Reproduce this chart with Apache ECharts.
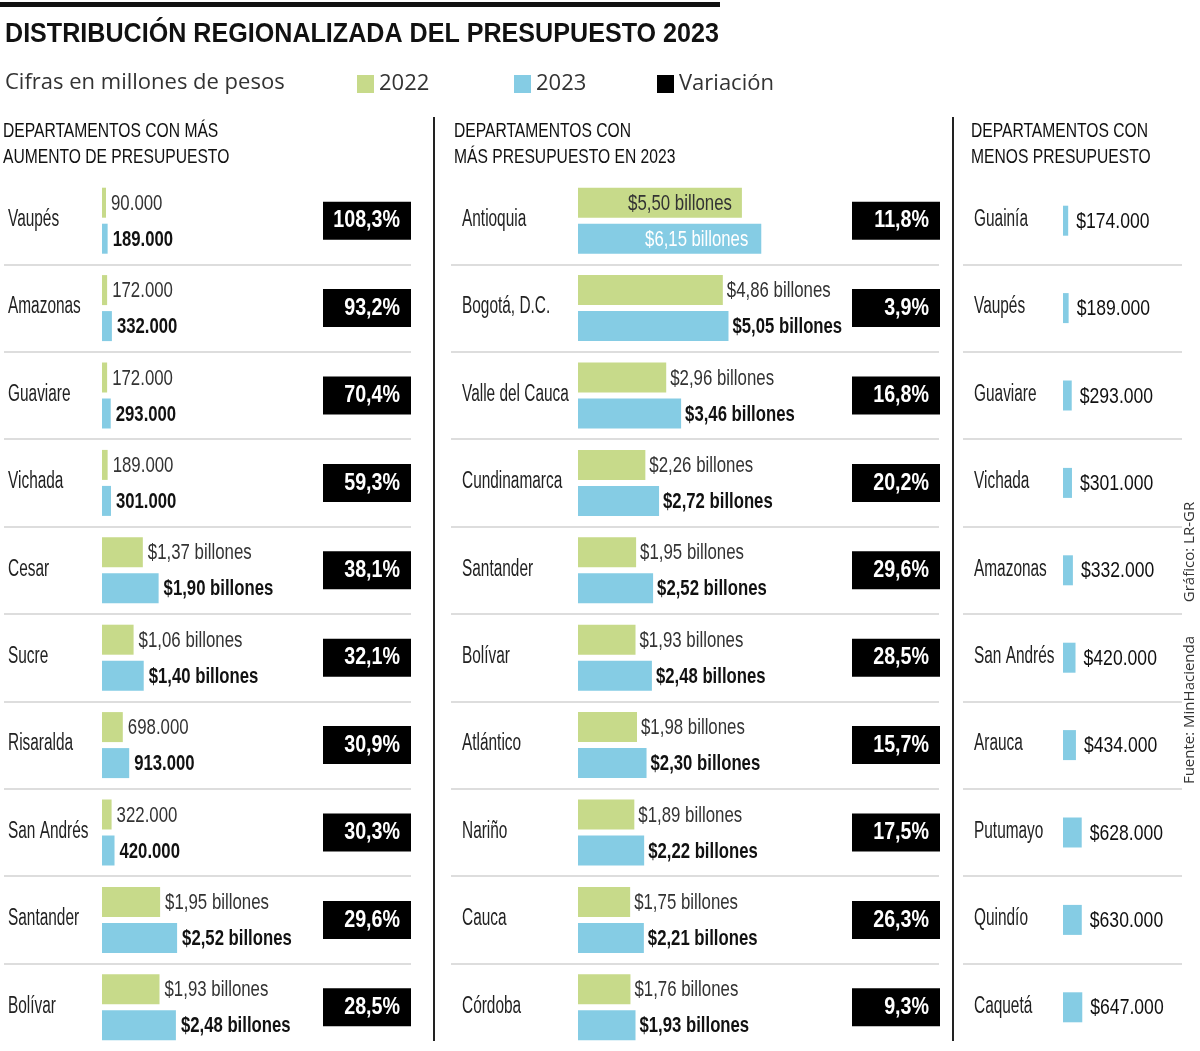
<!DOCTYPE html>
<html>
<head>
<meta charset="utf-8">
<script src="https://cdn.jsdelivr.net/npm/echarts@6/dist/echarts.min.js"></script>
<style>
  html, body { margin: 0; padding: 0; background: #fff; }
  #chart { width: 1200px; height: 1051px; }
</style>
</head>
<body>
<div id="chart"></div>
<script>
// ---------------- DATA ----------------
const TITLE = 'DISTRIBUCIÓN REGIONALIZADA DEL PRESUPUESTO 2023';
const SUBTITLE = 'Cifras en millones de pesos';
const HEADER_AUMENTO = 'DEPARTAMENTOS CON MÁS\nAUMENTO DE PRESUPUESTO';
const HEADER_MAS = 'DEPARTAMENTOS CON\nMÁS PRESUPUESTO EN 2023';
const HEADER_MENOS = 'DEPARTAMENTOS CON\nMENOS PRESUPUESTO';
const SOURCE_GRAFICO = 'Gráfico: LR-GR';
const SOURCE_FUENTE = 'Fuente: MinHacienda';

// Panel 1: departamentos con más aumento (millones de pesos)
const deptsAumento = ['Vaupés', 'Amazonas', 'Guaviare', 'Vichada', 'Cesar', 'Sucre', 'Risaralda', 'San Andrés', 'Santander', 'Bolívar'];
const aumento2022 = [90000, 172000, 172000, 189000, 1370000, 1060000, 698000, 322000, 1950000, 1930000];
const aumento2023 = [189000, 332000, 293000, 301000, 1900000, 1400000, 913000, 420000, 2520000, 2480000];
const aumentoVar = [108.3, 93.2, 70.4, 59.3, 38.1, 32.1, 30.9, 30.3, 29.6, 28.5];

// Panel 2: departamentos con más presupuesto en 2023
const deptsMas = ['Antioquia', 'Bogotá, D.C.', 'Valle del Cauca', 'Cundinamarca', 'Santander', 'Bolívar', 'Atlántico', 'Nariño', 'Cauca', 'Córdoba'];
const mas2022 = [5500000, 4860000, 2960000, 2260000, 1950000, 1930000, 1980000, 1890000, 1750000, 1760000];
const mas2023 = [6150000, 5050000, 3460000, 2720000, 2520000, 2480000, 2300000, 2220000, 2210000, 1930000];
const masVar = [11.8, 3.9, 16.8, 20.2, 29.6, 28.5, 15.7, 17.5, 26.3, 9.3];

// Panel 3: departamentos con menos presupuesto (2023)
const deptsMenos = ['Guainía', 'Vaupés', 'Guaviare', 'Vichada', 'Amazonas', 'San Andrés', 'Arauca', 'Putumayo', 'Quindío', 'Caquetá'];
const menos2023 = [174000, 189000, 293000, 301000, 332000, 420000, 434000, 628000, 630000, 647000];

// ---------------- STYLE ----------------
const COND = '"Liberation Sans", Arial, sans-serif';   // drawn horizontally squeezed to mimic a condensed face
const SANS = '"Open Sans", "Noto Sans", sans-serif';
const GREEN = '#c7da8a';
const BLUE = '#85cce4';
const SEP = '#d2d2d2';
const PX_PER_BILLON = 29.8;
const ROW_TOP = 177, ROW_H = 880;
const BAR_W = 30, BAR_OFF = 18, MIN_BAR = 4;

function fmtThousands(v) { return String(v).replace(/\B(?=(\d{3})+(?!\d))/g, '.'); }
function fmtBillones(v) { return '$' + (v / 1e6).toFixed(2).replace('.', ',') + ' billones'; }
function fmtAumento(v) { return v >= 1e6 ? fmtBillones(v) : fmtThousands(v); }
function fmtPesos(v) { return '$' + fmtThousands(v); }
function fmtPct(v) { return v.toFixed(1).replace('.', ',') + '%'; }

function axisRange(gridLeft, gridWidth, barStart) {
  const perUnit = PX_PER_BILLON / 1e6;
  return { min: -(barStart - gridLeft) / perUnit, max: (gridLeft + gridWidth - barStart) / perUnit };
}

const panels = {
  aum: { left: 4, width: 407, barStart: 102 },
  mas: { left: 451, width: 488, barStart: 578 },
  men: { left: 963, width: 219, barStart: 1063 }
};

// condensed text element
function ctext(text, x, y, o) {
  return {
    type: 'text', x: x, y: y, scaleX: o.sx, silent: true, z2: 10,
    style: {
      text: text, x: 0, y: 0, align: o.align || 'left', verticalAlign: o.va || 'middle',
      fill: o.color || '#222', fontFamily: o.font || COND, fontSize: o.size,
      fontWeight: o.weight || 'normal', lineHeight: o.lineHeight
    }
  };
}

function catAxis(gridIndex, data, withSplit) {
  return {
    gridIndex, type: 'category', data, inverse: true,
    axisLine: { show: false }, axisTick: { show: false }, axisLabel: { show: false },
    splitLine: withSplit ? { show: true, showMinLine: false, showMaxLine: false, lineStyle: { color: SEP, width: 1.5 } } : { show: false }
  };
}

const DEPT = { size: 23, sx: 0.67, color: '#222' };
const L22 = { size: 22, sx: 0.765, color: '#333' };
const L23 = { size: 22, sx: 0.76, color: '#111', weight: 'bold' };

// labels (department names + values) drawn through the axes' own scales
function labelSeries(axisIdx, depts, v1, v2, o) {
  return {
    type: 'custom', name: 'etiquetas', xAxisIndex: axisIdx, yAxisIndex: axisIdx, silent: true, z: 6,
    data: depts.map((d, i) => [i, v1 ? v1[i] : 0, v2[i]]),
    encode: { y: 0, x: 2 },
    renderItem: function (params, api) {
      const i = api.value(0);
      const cs = params.coordSys;
      const base = api.coord([0, i]);
      const cy = base[1];
      const kids = [ctext(depts[i], cs.x + o.pad, cy - 1, DEPT)];
      const place = (v, y, st, fmt, insideColor, insideDist) => {
        const xe = Math.max(api.coord([v, i])[0], base[0] + MIN_BAR);
        if (o.inside && v > o.inside) {
          kids.push(ctext(fmt(v), xe - insideDist, y, Object.assign({}, st, { align: 'right', color: insideColor, weight: 'normal' })));
        } else {
          kids.push(ctext(fmt(v), xe + o.dist, y, st));
        }
      };
      if (v1) {
        place(api.value(1), cy - BAR_OFF + 1, L22, o.fmt, '#333', 10);
        place(api.value(2), cy + BAR_OFF + 1, L23, o.fmt, '#fff', 13);
      } else {
        place(api.value(2), cy + 1, o.single, o.fmt);
      }
      return { type: 'group', children: kids };
    }
  };
}

function varianceSeries(axisIdx, values) {
  return {
    type: 'custom', name: 'Variación', xAxisIndex: axisIdx, yAxisIndex: axisIdx, silent: true,
    itemStyle: { color: '#000' },
    data: values.map((v, i) => [v, i]),
    encode: { x: 0, y: 1 },
    renderItem: function (params, api) {
      const c = api.coord([0, api.value(1)]);
      const cs = params.coordSys;
      const h = 38;
      return {
        type: 'group',
        children: [
          { type: 'rect', shape: { x: cs.x, y: c[1] - h / 2, width: cs.width, height: h }, style: { fill: '#000' } },
          ctext(fmtPct(api.value(0)), cs.x + cs.width - 11, c[1], { size: 24, sx: 0.82, color: '#fff', weight: 'bold', align: 'right' })
        ]
      };
    }
  };
}

const rA = axisRange(panels.aum.left, panels.aum.width, panels.aum.barStart);
const rM = axisRange(panels.mas.left, panels.mas.width, panels.mas.barStart);
const rN = axisRange(panels.men.left, panels.men.width, panels.men.barStart);

const legendCommon = {
  icon: 'rect', itemWidth: 17, itemHeight: 18, padding: 0, selectedMode: false, top: 73,
  textStyle: { fontFamily: SANS, fontSize: 22, color: '#333' }
};

const barCommon = { type: 'bar', barWidth: BAR_W, barGap: '20%', barMinHeight: MIN_BAR, silent: true, label: { show: false } };

const HEAD = { size: 21, sx: 0.745, color: '#111', va: 'top', lineHeight: 26 };

const option = {
  animation: false,
  backgroundColor: '#fff',
  legend: [
    Object.assign({}, legendCommon, { data: ['2022'], left: 357 }),
    Object.assign({}, legendCommon, { data: ['2023'], left: 514 }),
    Object.assign({}, legendCommon, { data: ['Variación'], left: 657 })
  ],
  grid: [
    { left: panels.aum.left, width: panels.aum.width, top: ROW_TOP, height: ROW_H },
    { left: 323, width: 88, top: ROW_TOP, height: ROW_H },
    { left: panels.mas.left, width: panels.mas.width, top: ROW_TOP, height: ROW_H },
    { left: 852, width: 88, top: ROW_TOP, height: ROW_H },
    { left: panels.men.left, width: panels.men.width, top: ROW_TOP, height: ROW_H }
  ],
  xAxis: [
    { gridIndex: 0, type: 'value', min: rA.min, max: rA.max, show: false, splitLine: { show: false } },
    { gridIndex: 1, type: 'value', min: 0, max: 200, show: false, splitLine: { show: false } },
    { gridIndex: 2, type: 'value', min: rM.min, max: rM.max, show: false, splitLine: { show: false } },
    { gridIndex: 3, type: 'value', min: 0, max: 200, show: false, splitLine: { show: false } },
    { gridIndex: 4, type: 'value', min: rN.min, max: rN.max, show: false, splitLine: { show: false } }
  ],
  yAxis: [
    catAxis(0, deptsAumento, true),
    catAxis(1, deptsAumento, false),
    catAxis(2, deptsMas, true),
    catAxis(3, deptsMas, false),
    catAxis(4, deptsMenos, true)
  ],
  graphic: [
    { type: 'rect', shape: { x: 0, y: 2, width: 720, height: 5 }, style: { fill: '#111' }, silent: true },
    ctext(TITLE, 5, 35, { size: 27, sx: 0.93, color: '#111', weight: 'bold' }),
    ctext(SUBTITLE, 5, 83, { size: 22, sx: 1, color: '#333', font: SANS }),
    ctext(HEADER_AUMENTO, 3, 118, HEAD),
    ctext(HEADER_MAS, 454, 118, HEAD),
    ctext(HEADER_MENOS, 971, 118, HEAD),
    { type: 'line', shape: { x1: 434, y1: 117, x2: 434, y2: 1041 }, style: { stroke: '#222', lineWidth: 2 }, silent: true },
    { type: 'line', shape: { x1: 953, y1: 117, x2: 953, y2: 1041 }, style: { stroke: '#222', lineWidth: 2 }, silent: true },
    { type: 'text', x: 1190, y: 552, rotation: Math.PI / 2, style: { text: SOURCE_GRAFICO, align: 'center', verticalAlign: 'middle', fill: '#333', fontFamily: SANS, fontSize: 15 }, silent: true },
    { type: 'text', x: 1190, y: 710, rotation: Math.PI / 2, style: { text: SOURCE_FUENTE, align: 'center', verticalAlign: 'middle', fill: '#333', fontFamily: SANS, fontSize: 15 }, silent: true }
  ],
  series: [
    Object.assign({}, barCommon, { name: '2022', xAxisIndex: 0, yAxisIndex: 0, itemStyle: { color: GREEN }, data: aumento2022 }),
    Object.assign({}, barCommon, { name: '2023', xAxisIndex: 0, yAxisIndex: 0, itemStyle: { color: BLUE }, data: aumento2023 }),
    labelSeries(0, deptsAumento, aumento2022, aumento2023, { pad: 4, dist: 5, fmt: fmtAumento }),
    varianceSeries(1, aumentoVar),
    Object.assign({}, barCommon, { name: '2022', xAxisIndex: 2, yAxisIndex: 2, itemStyle: { color: GREEN }, data: mas2022 }),
    Object.assign({}, barCommon, { name: '2023', xAxisIndex: 2, yAxisIndex: 2, itemStyle: { color: BLUE }, data: mas2023 }),
    labelSeries(2, deptsMas, mas2022, mas2023, { pad: 11, dist: 4, fmt: fmtBillones, inside: 5300000 }),
    varianceSeries(3, masVar),
    Object.assign({}, barCommon, { name: '2023', xAxisIndex: 4, yAxisIndex: 4, itemStyle: { color: BLUE }, data: menos2023 }),
    labelSeries(4, deptsMenos, null, menos2023, { pad: 11, dist: 8, fmt: fmtPesos, single: { size: 22, sx: 0.8, color: '#111' } })
  ]
};

const chart = echarts.init(document.getElementById('chart'), null, { renderer: 'canvas' });
chart.setOption(option);
</script>
</body>
</html>
